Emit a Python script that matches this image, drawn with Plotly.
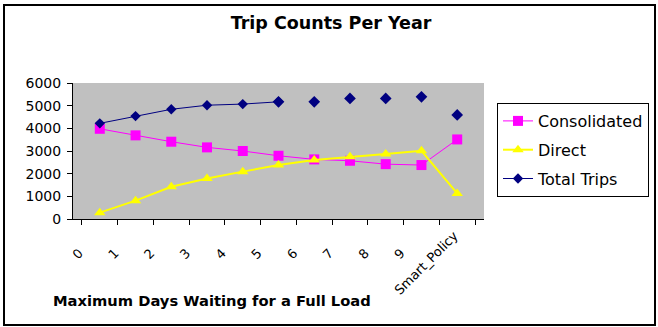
import plotly.graph_objects as go

categories = ["0", "1", "2", "3", "4", "5", "6", "7", "8", "9", "Smart_Policy"]
consolidated = [3980, 3690, 3410, 3160, 3000, 2790, 2630, 2570, 2420, 2380, 3510]
direct = [280, 810, 1420, 1790, 2090, 2380, 2600, 2750, 2870, 3010, 1130]
total_trips = [4220, 4540, 4840, 5020, 5070, 5170, 5170, 5320, 5320, 5390, 4590]
y_ticks = [0, 1000, 2000, 3000, 4000, 5000, 6000]

WIDE = "DejaVu Sans, Verdana, sans-serif"

# short labels get trailing padding so their rotated text sits lower-left like Excel's
x_cats = [c + "\u00a0" * 6 if len(c) == 1 else c for c in categories]

fig = go.Figure()
fig.add_trace(go.Scatter(
    x=x_cats, y=consolidated, name="Consolidated", mode="lines+markers",
    legendgroup="a",
    line=dict(color="#FF00FF", width=1),
    marker=dict(symbol="square", size=10, color="#FF00FF"),
))
fig.add_trace(go.Scatter(
    x=x_cats, y=direct, name="Direct", mode="lines+markers",
    legendgroup="b",
    line=dict(color="#FFFF00", width=2),
    marker=dict(symbol="triangle-up", size=10, color="#FFFF00"),
))
fig.add_trace(go.Scatter(
    x=x_cats[:6], y=total_trips[:6], name="Total Trips", mode="lines+markers",
    legendgroup="c",
    line=dict(color="#000080", width=1),
    marker=dict(symbol="diamond", size=8, color="#000080"),
))
fig.add_trace(go.Scatter(
    x=x_cats[5:], y=total_trips[5:], name="Total Trips", mode="markers",
    legendgroup="c",
    marker=dict(symbol="diamond", size=9, color="#000080"), showlegend=False,
))

fig.update_layout(
    width=658, height=327,
    margin=dict(l=73, r=174, t=83, b=108, autoexpand=False),
    paper_bgcolor="white", plot_bgcolor="#C0C0C0",
    font=dict(family=WIDE, size=12, color="black"),
    title=dict(text="<b>Trip Counts Per Year</b>", x=331 / 658, xanchor="center",
               y=1 - 23 / 327, yanchor="middle", font=dict(size=17.5, family=WIDE)),
    showlegend=True,
    legend=dict(x=(497 - 73) / 411, y=(219 - 103) / 136, xanchor="left", yanchor="top",
                bordercolor="black", borderwidth=1, bgcolor="white",
                font=dict(size=16, family=WIDE), traceorder="grouped",
                tracegroupgap=5),
    xaxis=dict(
        type="category", categoryorder="array", categoryarray=x_cats,
        tickson="boundaries", ticks="outside", ticklen=5,
        tickcolor="black", showline=True, linecolor="black", linewidth=1,
        showgrid=False, tickangle=-45, tickfont=dict(size=13, family=WIDE),
        automargin=False, ticklabelstandoff=3, ticklabelshift=-3,
    ),
    yaxis=dict(
        range=[0, 6000], tickvals=y_ticks, ticks="outside", ticklen=5,
        tickcolor="black", showline=True, linecolor="black", linewidth=1,
        showgrid=False, zeroline=False, tickfont=dict(size=14, family=WIDE),
        automargin=False, ticklabelstandoff=3,
    ),
    annotations=[dict(
        text="<b>Maximum Days Waiting for a Full Load</b>", xref="paper", yref="paper",
        x=(51 - 73) / 411, y=(219 - 300) / 136, xanchor="left", yanchor="middle",
        showarrow=False, font=dict(size=14.7, family=WIDE),
    )],
    shapes=[dict(type="rect", xref="paper", yref="paper",
                 x0=(4 - 73) / 411, x1=(655 - 73) / 411,
                 y0=(219 - 325) / 136, y1=(219 - 5) / 136,
                 line=dict(color="black", width=2), fillcolor="rgba(0,0,0,0)")],
)

fig.write_html("out.html", config={"displayModeBar": False},
               post_script="document.body.style.margin='0';document.body.style.overflow='hidden';")
